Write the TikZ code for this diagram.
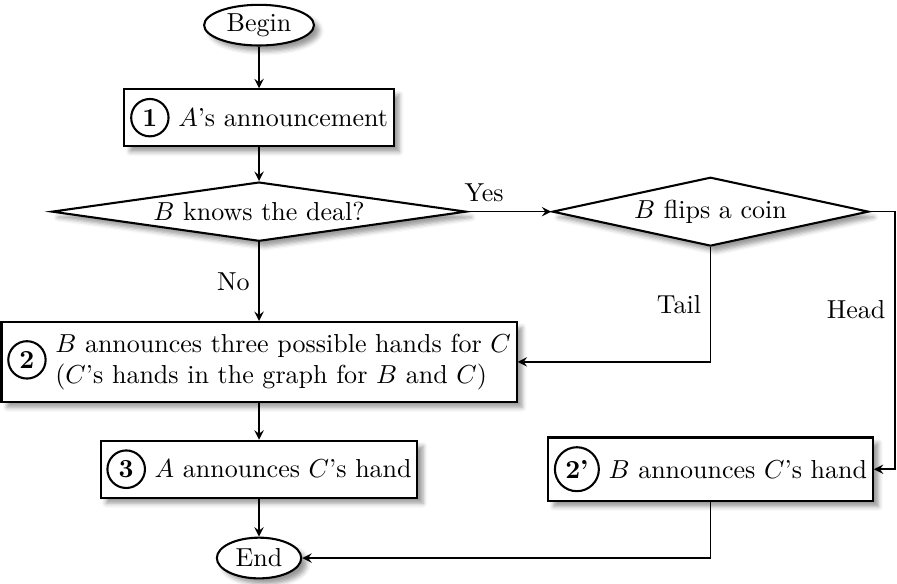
\documentclass[tikz,border=0pt]{standalone}
\usetikzlibrary{shapes.geometric,shadows.blur}

\tikzset{
    >=stealth,
    terminal/.style={draw, thick, ellipse, fill=white, blur shadow, inner xsep=2.5pt, inner ysep=1pt, minimum height=0.55cm},
    process/.style={draw, thick, rectangle, fill=white, blur shadow, inner xsep=2.2pt},
    decision/.style={draw, thick, diamond, fill=white, blur shadow, shape aspect=7, inner sep=0pt},
    flow/.style={semithick, ->},
}
\newcommand{\stepnum}[1]{\tikz[baseline=(num.base)] \node[draw, thick, circle, inner sep=2pt, font=\bfseries] (num) {#1};}

\begin{document}
\begin{tikzpicture}
    \useasboundingbox (0,0) rectangle (12.12,7.89);

    \node[terminal] (begin) at (3.5,7.55) {Begin};
    \node[process] (ann) at (3.5,6.3) {\stepnum{1} $A$'s announcement};
    \node[decision, minimum width=5.6cm, minimum height=0.8cm] (knows) at (3.5,5.03) {$B$ knows the deal?};
    \node[decision, minimum width=4.24cm, minimum height=0.93cm] (coin) at (9.6,5.03) {$B$ flips a coin};
    \node[process] (three) at (3.5,3.0) {\stepnum{2} \begin{tabular}{@{}l@{}}$B$ announces three possible hands for $C$\\($C$'s hands in the graph for $B$ and $C$)\end{tabular}};
    \node[process] (ahand) at (3.5,1.55) {\stepnum{3} $A$ announces $C$'s hand};
    \node[process] (bhand) at (9.6,1.55) {\stepnum{2'} $B$ announces $C$'s hand};
    \node[terminal] (end) at (3.5,0.35) {End};

    \draw[flow] (begin) -- (ann);
    \draw[flow] (ann) -- (knows);
    \draw[flow] (knows) -- node[left] {No} (three);
    \draw[flow] (knows.east) -- node[above, pos=0.2] {Yes} (coin.west);
    \draw[flow] (coin.south) |- node[left, pos=0.25] {Tail} (three.east);
    \draw[flow] (coin.east) -- ++(0.34,0) |- node[left, pos=0.19] {Head} (bhand.east);
    \draw[flow] (three) -- (ahand);
    \draw[flow] (ahand) -- (end);
    \draw[flow] (bhand.south) |- (end.east);
\end{tikzpicture}
\end{document}
